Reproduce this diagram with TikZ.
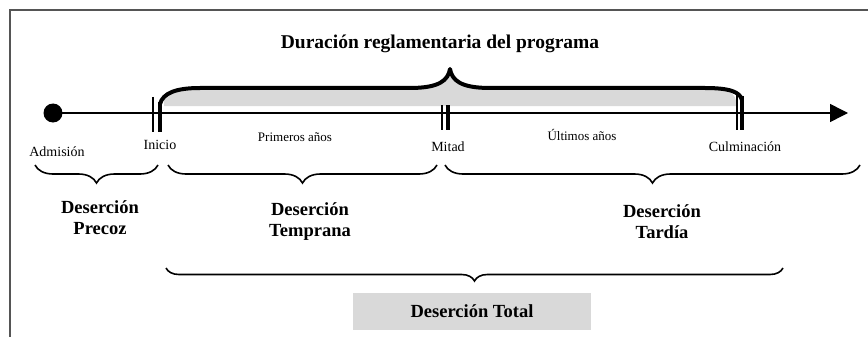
\documentclass[tikz,border=0pt]{standalone}
\usepackage{fontspec}
\setmainfont{Liberation Serif}
\usetikzlibrary{arrows.meta,decorations.pathreplacing}
\definecolor{lgray}{HTML}{D9D9D9}
\definecolor{frame}{HTML}{555555}
\begin{document}
\begin{tikzpicture}[x=1pt,y=-1pt,
  lbl/.style={font=\fontsize{14}{16}\selectfont, inner sep=0pt},
  sublbl/.style={font=\fontsize{13}{15}\selectfont, inner sep=0pt},
  boldlbl/.style={font=\bfseries\fontsize{18.5}{21}\selectfont, align=center, inner sep=0pt},
  ubrace/.style={decorate, decoration={brace, mirror, amplitude=#1}, line width=1.6pt},
  thintick/.style={line width=1.5pt},
  thicktick/.style={line width=4pt},
  axisline/.style={line width=1.5pt, -{Triangle[length=18pt,width=18pt]}},
  bigbrace/.style={line width=4pt, line cap=round, line join=round}
]
\clip (0,0) rectangle (868,337);
\fill[white] (0,0) rectangle (868,337);
% frame
\draw[frame, line width=1.5pt] (10,10) rectangle (900,400);

% title
\node[font=\bfseries\fontsize{19.5}{22}\selectfont, inner sep=0pt] (title) at (440,44) {Duración reglamentaria del programa};

% gray fill below big brace
\fill[lgray] (164,106) -- (164,100) .. controls (166,92) and (176,88) .. (200,88)
  -- (410,88) .. controls (440,88) and (448,80) .. (450,69)
  .. controls (452,80) and (460,88) .. (490,88)
  -- (705,88) .. controls (728,88) and (736,92) .. (737,106) -- cycle;

% axis
\node[circle, fill=black, inner sep=0pt, minimum size=19pt] (dot) at (53,113) {};
\coordinate (tip) at (848,113);
\draw[axisline] (dot.center) -- (tip);

% ticks
\coordinate (ini) at (157,113);
\coordinate (mit) at (445,113);
\coordinate (cul) at (740,113);
\draw[thintick] (153,97) -- (153,132);
\draw[thicktick] (160,102) -- (160,132);
\draw[thintick] (442,105) -- (442,130);
\draw[thicktick] (448,105) -- (448,130);
\draw[thintick] (737,95) -- (737,130);
\draw[thicktick] (742,96) -- (742,130);

% big brace
\draw[bigbrace] (160,104) .. controls (163,93) and (176,88) .. (200,88)
  -- (410,88) .. controls (440,88) and (448,80) .. (450,69)
  .. controls (452,80) and (460,88) .. (490,88)
  -- (705,88) .. controls (730,88) and (740,92) .. (742,100);

% labels on axis
\node[lbl] (adm) at (57,152) {Admisión};
\node[lbl] (inic) at (160,145) {Inicio};
\node[sublbl] (prim) at (295,137) {Primeros años};
\node[lbl] (mitad) at (448,147) {Mitad};
\node[sublbl] (ult) at (582,135) {Últimos años};
\node[lbl] (culm) at (745,147) {Culminación};

% small braces
\draw[ubrace=18pt] (35,165) -- (158,165);
\draw[ubrace=18pt] (168,165) -- (437,165);
\draw[ubrace=18pt] (445,165) -- (860,165);

% desercion labels
\node[boldlbl] (prec) at (100,218) {Deserción\\Precoz};
\node[boldlbl] (temp) at (310,222) {Deserción\\Temprana};
\node[boldlbl] (tard) at (662,222) {Deserción\\Tardía};

% bottom brace
\draw[ubrace=13pt] (166,268) -- (783,268);

% total box
\node[fill=lgray, minimum width=238pt, minimum height=37pt, inner sep=0pt,
      font=\bfseries\fontsize{18.5}{21}\selectfont] (total) at (472,311) {Deserción Total};
\end{tikzpicture}
\end{document}
